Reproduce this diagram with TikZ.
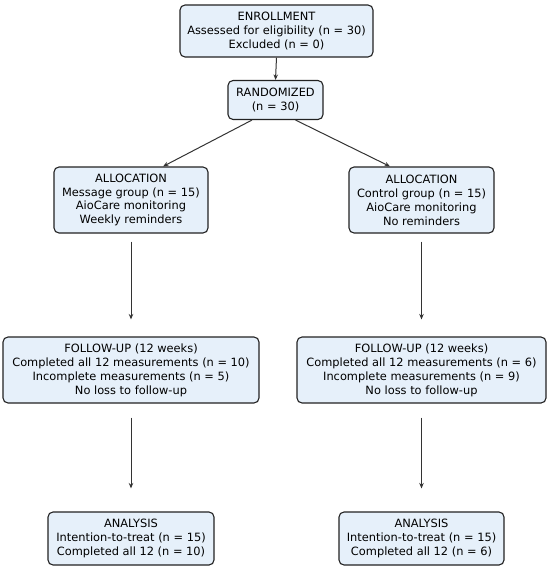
\documentclass[tikz,border=0pt]{standalone}
\usepackage{fontspec}
\setmainfont{DejaVu Sans}
\usetikzlibrary{calc,arrows.meta}
\definecolor{boxfill}{HTML}{E6F0FA}
\definecolor{boxline}{HTML}{222222}
\definecolor{arrowcol}{HTML}{333333}
\begin{document}
\begin{tikzpicture}[x=1pt,y=-1pt,
  box/.style={draw=boxline,fill=boxfill,rounded corners=5pt,line width=1.1pt,
    inner sep=0pt,align=center,font=\fontsize{11.4}{13.9}\selectfont},
  conn/.style={draw=arrowcol,line width=1pt,-{Stealth[length=5.5pt,width=4.5pt]}}]
\useasboundingbox (0,0) rectangle (550,570);
\node[box,minimum width=193pt,minimum height=52pt] (enr) at (276.5,31) {ENROLLMENT\\Assessed for eligibility (n = 30)\\Excluded (n = 0)};
\node[box,minimum width=95pt,minimum height=39pt] (rand) at (275.5,100) {RANDOMIZED\\(n = 30)};
\node[box,minimum width=154pt,minimum height=66pt] (al1) at (131,200) {ALLOCATION\\Message group (n = 15)\\AioCare monitoring\\Weekly reminders};
\node[box,minimum width=145pt,minimum height=66pt] (al2) at (421.5,200) {ALLOCATION\\Control group (n = 15)\\AioCare monitoring\\No reminders};
\node[box,minimum width=256pt,minimum height=66pt] (fu1) at (131,370) {FOLLOW-UP (12 weeks)\\Completed all 12 measurements (n = 10)\\Incomplete measurements (n = 5)\\No loss to follow-up};
\node[box,minimum width=249pt,minimum height=66pt] (fu2) at (421.5,370) {FOLLOW-UP (12 weeks)\\Completed all 12 measurements (n = 6)\\Incomplete measurements (n = 9)\\No loss to follow-up};
\node[box,minimum width=166pt,minimum height=53pt] (an1) at (131,538.5) {ANALYSIS\\Intention-to-treat (n = 15)\\Completed all 12 (n = 10)};
\node[box,minimum width=165pt,minimum height=53pt] (an2) at (421.5,538.5) {ANALYSIS\\Intention-to-treat (n = 15)\\Completed all 12 (n = 6)};
\draw[conn] (enr.south) -- (rand.north);
\draw[conn] ($(rand.south)+(-23.5,0)$) -- ($(al1.north)+(32,0)$);
\draw[conn] ($(rand.south)+(20,0)$) -- ($(al2.north)+(-31.5,0)$);
\draw[conn,shorten <=8pt,shorten >=17pt] (al1.south) -- (fu1.north);
\draw[conn,shorten <=8pt,shorten >=17pt] (al2.south) -- (fu2.north);
\draw[conn,shorten <=14pt,shorten >=23pt] (fu1.south) -- (an1.north);
\draw[conn,shorten <=14pt,shorten >=23pt] (fu2.south) -- (an2.north);
\end{tikzpicture}
\end{document}
